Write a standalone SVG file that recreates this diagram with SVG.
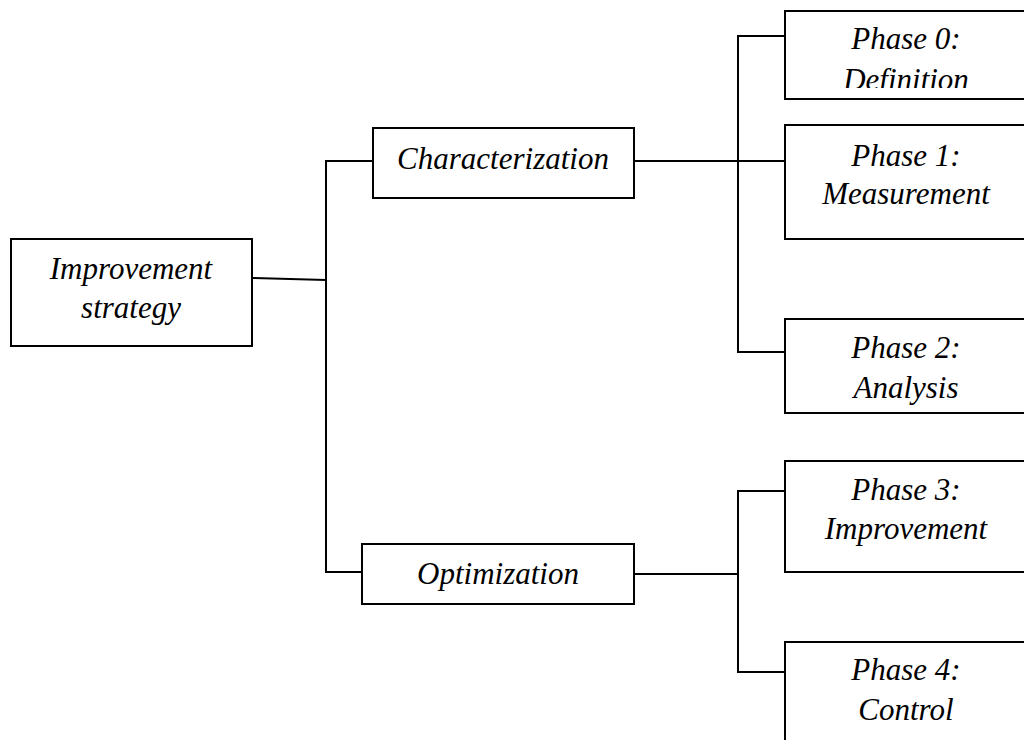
<svg xmlns="http://www.w3.org/2000/svg" width="1024" height="740" viewBox="0 0 1024 740">
  <style>
    .box { fill: #ffffff; stroke: #000000; stroke-width: 2; }
    .wire { fill: none; stroke: #000000; stroke-width: 2; }
    .lbl { font-family: "Liberation Serif", "Times New Roman", serif; font-style: italic; font-size: 31px; fill: #000000; text-anchor: middle; }
  </style>
  <defs>
    <clipPath id="clip-phase0">
      <rect x="785" y="11" width="245" height="77"/>
    </clipPath>
  </defs>
  <rect width="1024" height="740" fill="#ffffff"/>

  <!-- tree connectors -->
  <g id="connectors">
    <polyline class="wire" points="252,278 326,280"/>
    <polyline class="wire" points="373,161 326,161 326,572 362,572"/>
    <polyline class="wire" points="634,161 785,161"/>
    <polyline class="wire" points="785,36 738,36 738,352 785,352"/>
    <polyline class="wire" points="634,574 738,574"/>
    <polyline class="wire" points="785,491 738,491 738,672 785,672"/>
  </g>

  <g id="improvement-strategy">
    <rect class="box" x="11" y="239" width="241" height="107"/>
    <text class="lbl" x="131" y="279">Improvement</text>
    <text class="lbl" x="131" y="318">strategy</text>
  </g>

  <g id="characterization">
    <rect class="box" x="373" y="128" width="261" height="70"/>
    <text class="lbl" x="503" y="169">Characterization</text>
  </g>

  <g id="optimization">
    <rect class="box" x="362" y="544" width="272" height="60"/>
    <text class="lbl" x="498" y="584">Optimization</text>
  </g>

  <g id="phase-0">
    <rect class="box" x="785" y="11" width="250" height="88"/>
    <g clip-path="url(#clip-phase0)">
      <text class="lbl" x="906" y="49">Phase 0:</text>
      <text class="lbl" x="906" y="90">Definition</text>
    </g>
  </g>

  <g id="phase-1">
    <rect class="box" x="785" y="125" width="250" height="114"/>
    <text class="lbl" x="906" y="166">Phase 1:</text>
    <text class="lbl" x="906" y="204">Measurement</text>
  </g>

  <g id="phase-2">
    <rect class="box" x="785" y="319" width="250" height="94"/>
    <text class="lbl" x="906" y="358">Phase 2:</text>
    <text class="lbl" x="906" y="398">Analysis</text>
  </g>

  <g id="phase-3">
    <rect class="box" x="785" y="461" width="250" height="111"/>
    <text class="lbl" x="906" y="500">Phase 3:</text>
    <text class="lbl" x="906" y="539">Improvement</text>
  </g>

  <g id="phase-4">
    <rect class="box" x="785" y="642" width="250" height="110"/>
    <text class="lbl" x="906" y="680">Phase 4:</text>
    <text class="lbl" x="906" y="720">Control</text>
  </g>
</svg>
